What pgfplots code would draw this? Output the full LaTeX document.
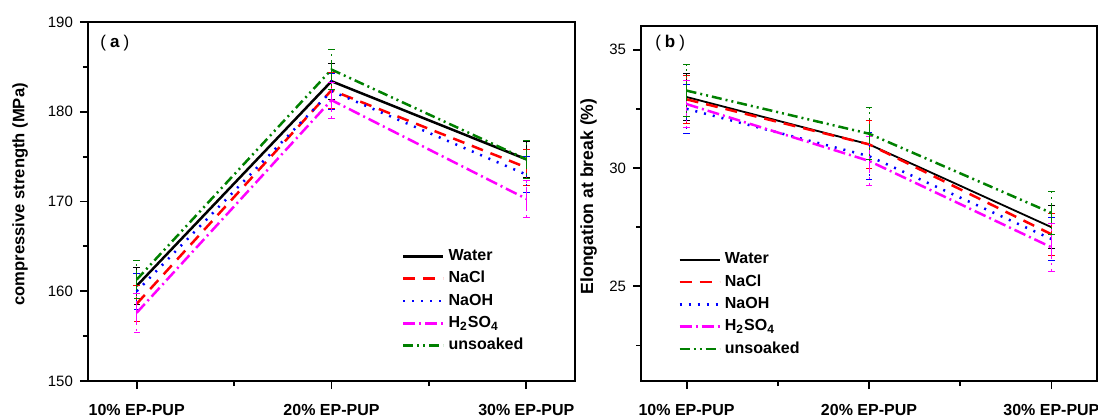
\documentclass[border=0pt]{standalone}
\usepackage{pgfplots}
\pgfplotsset{compat=1.18}
\usepackage{fontspec}
\setmainfont{Liberation Sans}
\definecolor{cgreen}{RGB}{0,128,0}
\definecolor{cmag}{RGB}{255,0,255}
\definecolor{cred}{RGB}{255,0,0}
\definecolor{cblue}{RGB}{0,0,255}

\pgfplotsset{
  panel/.style={
    scale only axis, anchor=south west,
    axis line style={line width=1pt},
    tick align=outside, xtick pos=bottom, ytick pos=left,
    major tick length=4pt, minor tick length=2.5pt,
    every tick/.style={black, line width=0.9pt},
    xmin=-0.25, xmax=2.25, xtick={0,1,2}, minor xtick={0.5,1.5},
    xticklabels={10\% EP-PUP, 20\% EP-PUP, 30\% EP-PUP},
    xticklabel style={font=\bfseries\fontsize{8}{9}\selectfont, yshift=-4pt},
    yticklabel style={font=\fontsize{7.5}{9}\selectfont},
    /pgf/number format/assume math mode=true,
    legend style={draw=none, fill=none, anchor=north west,
      font=\bfseries\fontsize{8}{9}\selectfont, row sep=0pt},
    legend cell align=left,
    legend image code/.code={\draw[##1] (0pt,0pt) -- (20pt,0pt);},
    error bars/y dir=both, error bars/y explicit,
    error bars/error bar style={line width=0.4pt},
    error bars/error mark options={rotate=90, mark size=1.6pt, line width=0.4pt},
  },
  water/.style={black, line width=1.25pt},
  nacl/.style={cred, line width=1.25pt, dash pattern=on 6pt off 4pt},
  naoh/.style={cblue, line width=1.25pt, dash pattern=on 1pt off 3.5pt},
  hso/.style={cmag, line width=1.25pt, dash pattern=on 6pt off 2pt on 1pt off 2pt},
  unsoak/.style={cgreen, line width=1.25pt, dash pattern=on 5pt off 2pt on 1pt off 2pt on 1pt off 2pt},
}

\begin{document}
\begin{tikzpicture}
\useasboundingbox (0,0) rectangle (549pt,209.5pt);

% (a) compressive strength
\begin{axis}[panel, at={(44pt,19pt)}, width=243.5pt, height=179.5pt,
  ymin=150, ymax=190, ytick={150,160,170,180,190}, minor ytick={155,165,175,185},
  ylabel={compressive strength (MPa)},
  ylabel style={font=\bfseries\fontsize{8.3}{9}\selectfont,
    at={([xshift=-26.5pt]rel axis cs:0,0.52)}, anchor=south},
  legend style={at={(rel axis cs:0.632,0.39)}}]
\addplot[water] coordinates {(0,160.6) +- (0,2.1) (1,183.4) +- (0,2.0) (2,174.7) +- (0,2.0)};
\addplot[nacl] coordinates {(0,158.6) +- (0,2.0) (1,182.4) +- (0,2.0) (2,173.8) +- (0,2.0)};
\addplot[naoh] coordinates {(0,160.0) +- (0,2.0) (1,182.3) +- (0,2.0) (2,173.0) +- (0,2.0)};
\addplot[hso] coordinates {(0,157.6) +- (0,2.2) (1,181.3) +- (0,2.0) (2,170.3) +- (0,2.1)};
\addplot[unsoak] coordinates {(0,161.3) +- (0,2.1) (1,184.7) +- (0,2.2) (2,174.7) +- (0,2.1)};
\legend{Water, NaCl, NaOH, H\textsubscript{2}SO\textsubscript{4}, unsoaked}
\node[font=\fontsize{8.5}{9}\selectfont] at (rel axis cs:0.055,0.941) {(\hspace{2pt}\textbf{a}\hspace{2pt})};
\end{axis}

% (b) elongation at break
\begin{axis}[panel, at={(320.5pt,19pt)}, width=228pt, height=177.5pt,
  ymin=21, ymax=36, ytick={25,30,35}, minor ytick={22.5,27.5,32.5},
  ylabel={Elongation at break (\%)},
  ylabel style={font=\bfseries\fontsize{8.8}{9}\selectfont,
    at={([xshift=-18.5pt]rel axis cs:0,0.52)}, anchor=south},
  water/.style={black, line width=0.9pt},
  legend style={at={(rel axis cs:0.068,0.385)}}]
\addplot[water] coordinates {(0,33.0) +- (0,1.0) (1,31.0) +- (0,1.0) (2,27.5) +- (0,0.9)};
\addplot[nacl] coordinates {(0,32.9) +- (0,1.0) (1,31.0) +- (0,1.0) (2,27.2) +- (0,0.9)};
\addplot[naoh] coordinates {(0,32.5) +- (0,1.05) (1,30.5) +- (0,1.0) (2,27.0) +- (0,0.9)};
\addplot[hso] coordinates {(0,32.7) +- (0,1.0) (1,30.3) +- (0,1.05) (2,26.65) +- (0,1.0)};
\addplot[unsoak] coordinates {(0,33.27) +- (0,1.1) (1,31.45) +- (0,1.1) (2,28.1) +- (0,0.9)};
\legend{Water, NaCl, NaOH, H\textsubscript{2}SO\textsubscript{4}, unsoaked}
\node[font=\fontsize{8.5}{9}\selectfont] at (rel axis cs:0.064,0.952) {(\hspace{2pt}\textbf{b}\hspace{2pt})};
\end{axis}
\end{tikzpicture}
\end{document}
